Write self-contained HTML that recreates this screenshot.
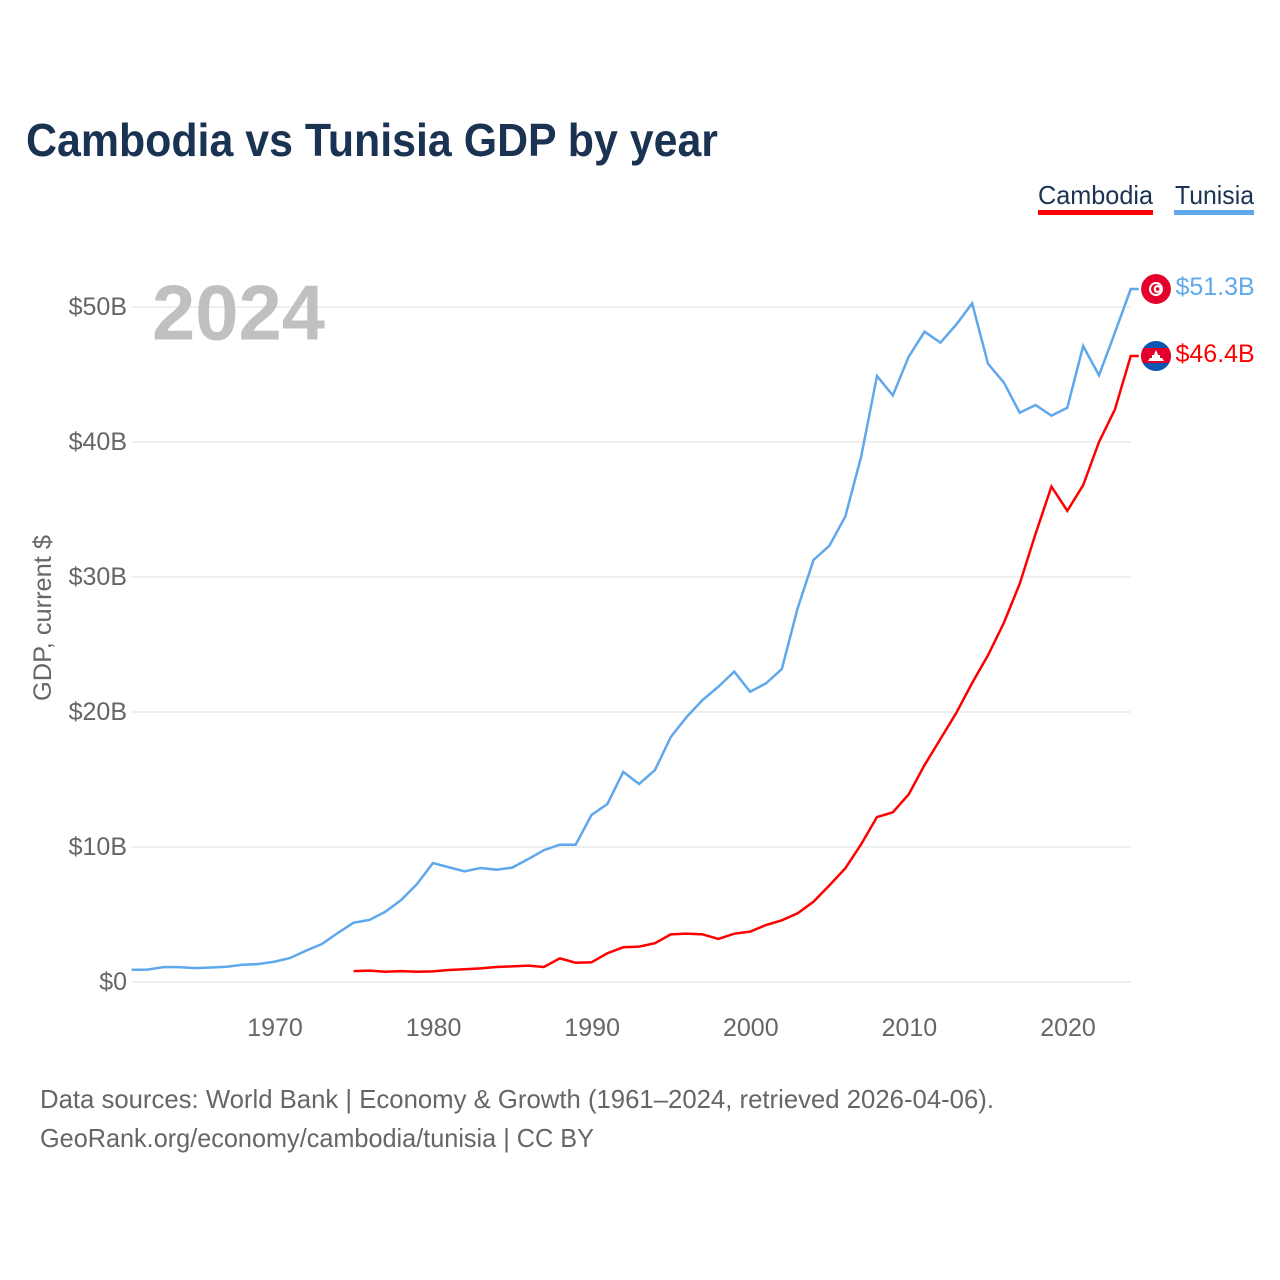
<!DOCTYPE html>
<html lang="en">
<head>
<meta charset="utf-8">
<title>Cambodia vs Tunisia GDP by year</title>
<style>
html,body{margin:0;padding:0;background:#fff;width:1280px;height:1280px;overflow:hidden}
svg{display:block;font-family:"Liberation Sans",sans-serif}
</style>
</head>
<body>
<svg id="chart" width="1280" height="1280" viewBox="0 0 1280 1280" xmlns="http://www.w3.org/2000/svg">
  <defs>
    <clipPath id="flag-clip"><circle cx="0" cy="0" r="15"></circle></clipPath>
  </defs>
  <rect x="0" y="0" width="1280" height="1280" fill="#ffffff"></rect>
  <text x="26" y="156" font-size="46" font-weight="700" fill="#1a3352" textLength="692" lengthAdjust="spacingAndGlyphs">Cambodia vs Tunisia GDP by year</text>

  <g>
    <g>
      <text x="1038" y="204" font-size="26" fill="#1a3352" textLength="115" lengthAdjust="spacingAndGlyphs">Cambodia</text>
      <rect x="1038" y="210" width="115" height="5" fill="#ff0000"></rect>
    </g>
    <g>
      <text x="1175" y="204" font-size="26" fill="#1a3352" textLength="79" lengthAdjust="spacingAndGlyphs">Tunisia</text>
      <rect x="1174" y="210" width="80" height="5" fill="#5fa8ec"></rect>
    </g>
  </g>

  <g id="grid-layer"></g>
  <g id="y-tick-layer"></g>
  <g id="x-tick-layer"></g>

  <text transform="translate(51,701) rotate(-90)" x="0" y="0" font-size="25" fill="#666666" textLength="166" lengthAdjust="spacingAndGlyphs">GDP, current $</text>
  <text x="152" y="339.5" font-size="78" font-weight="700" fill="#c0c0c0" textLength="173" lengthAdjust="spacingAndGlyphs">2024</text>

  <g id="series-layer"></g>

  <g id="tunisia-end">
    <g id="tunisia-flag" clip-path="url(#flag-clip)">
      <circle cx="0" cy="0" r="15" fill="#e4002b"></circle>
      <circle cx="0" cy="0" r="7" fill="#ffffff"></circle>
      <circle cx="0" cy="0" r="5" fill="#e4002b"></circle>
      <circle cx="1.6" cy="0" r="4" fill="#ffffff"></circle>
      <circle cx="1.6" cy="0" r="1.8" fill="#e4002b"></circle>
    </g>
    <text id="tunisia-value" x="1175.5" y="0" font-size="25" fill="#5fa8ec"></text>
  </g>

  <g id="cambodia-end">
    <g id="cambodia-flag" clip-path="url(#flag-clip)">
      <rect x="-15" y="-15" width="30" height="30" fill="#0b56b0"></rect>
      <rect x="-15" y="-8" width="30" height="15" fill="#e4002b"></rect>
      <polygon points="-8,5 -6,2 -4,2 -4,-1 -2,-1 -1,-4 0,-6 1,-4 2,-1 4,-1 4,2 6,2 8,5" fill="#ffffff"></polygon>
    </g>
    <text id="cambodia-value" x="1175.5" y="0" font-size="25" fill="#ff0000"></text>
  </g>

  <text x="40" y="1108" font-size="26" fill="#666666" textLength="954" lengthAdjust="spacingAndGlyphs">Data sources: World Bank | Economy &amp; Growth (1961–2024, retrieved 2026-04-06).</text>
  <text x="40" y="1147" font-size="26" fill="#666666" textLength="554" lengthAdjust="spacingAndGlyphs">GeoRank.org/economy/cambodia/tunisia | CC BY</text>
</svg>

<script>
const tunisiaStartYear = 1961;
const tunisiaValues = [
  0.91, 0.92, 1.10, 1.10, 1.03, 1.07, 1.13, 1.28, 1.33, 1.50,
  1.78, 2.32, 2.81, 3.63, 4.39, 4.60, 5.20, 6.07, 7.26, 8.81,
  8.50, 8.20, 8.44, 8.32, 8.47, 9.10, 9.77, 10.17, 10.17, 12.37,
  13.18, 15.56, 14.67, 15.70, 18.15, 19.63, 20.89, 21.87, 22.99, 21.50,
  22.12, 23.18, 27.70, 31.26, 32.32, 34.47, 38.90, 44.89, 43.45, 46.32,
  48.17, 47.36, 48.70, 50.27, 45.80, 44.40, 42.17, 42.74, 41.95, 42.54,
  47.11, 44.94, 48.10, 51.33
];
const cambodiaStartYear = 1975;
const cambodiaValues = [
  0.81, 0.84, 0.76, 0.81, 0.76, 0.79, 0.89, 0.94, 1.01, 1.11,
  1.16, 1.21, 1.11, 1.75, 1.43, 1.46, 2.13, 2.57, 2.62, 2.87,
  3.53, 3.58, 3.53, 3.19, 3.58, 3.73, 4.22, 4.57, 5.09, 5.95,
  7.16, 8.42, 10.20, 12.22, 12.57, 13.90, 16.07, 18.00, 19.93, 22.15,
  24.20, 26.60, 29.50, 33.20, 36.70, 34.90, 36.80, 40.00, 42.40, 46.37
];
const yTickValues = [0, 10, 20, 30, 40, 50];
const xTickYears = [1970, 1980, 1990, 2000, 2010, 2020];

const SVG_NS = 'http://www.w3.org/2000/svg';
const xAxis = function (year) { return 274.3 + (year - 1970) * 15.86; };
const yAxis = function (value) { return 982 - value * 13.5; };
const plotLeft = xAxis(1961);
const plotRight = xAxis(2024);

function make(tag, parent) {
  const el = document.createElementNS(SVG_NS, tag);
  parent.appendChild(el);
  return el;
}

const gridLayer = document.getElementById('grid-layer');
const yTickLayer = document.getElementById('y-tick-layer');
const xTickLayer = document.getElementById('x-tick-layer');
const seriesLayer = document.getElementById('series-layer');

yTickValues.forEach(function (v) {
  const line = make('line', gridLayer);
  
  
  line.setAttribute('x1', plotLeft);
  line.setAttribute('x2', plotRight);
  line.setAttribute('y1', yAxis(v));
  line.setAttribute('y2', yAxis(v));
  line.setAttribute('stroke', '#eaeaea');
  line.setAttribute('stroke-width', '1.5');

  const label = make('text', yTickLayer);
  
  
  label.setAttribute('x', 127);
  label.setAttribute('y', yAxis(v) + 8);
  label.setAttribute('text-anchor', 'end');
  label.setAttribute('font-size', '25');
  label.setAttribute('fill', '#666666');
  label.textContent = v === 0 ? '$0' : '$' + v + 'B';
});

xTickYears.forEach(function (year) {
  const label = make('text', xTickLayer);
  
  
  label.setAttribute('x', xAxis(year) + 0.7);
  label.setAttribute('y', 1036);
  label.setAttribute('text-anchor', 'middle');
  label.setAttribute('font-size', '25');
  label.setAttribute('fill', '#666666');
  label.textContent = year;
});

function seriesPath(values, startYear) {
  const pts = values.map(function (v, i) {
    return xAxis(startYear + i).toFixed(2) + ',' + yAxis(v).toFixed(2);
  });
  const last = values[values.length - 1];
  pts.push((xAxis(startYear + values.length - 1) + 8).toFixed(2) + ',' + yAxis(last).toFixed(2));
  return 'M' + pts.join(' L');
}

const tunisiaLine = make('path', seriesLayer);


tunisiaLine.setAttribute('d', seriesPath(tunisiaValues, tunisiaStartYear));
tunisiaLine.setAttribute('fill', 'none');
tunisiaLine.setAttribute('stroke', '#5fa8ec');
tunisiaLine.setAttribute('stroke-width', '2.5');

const cambodiaLine = make('path', seriesLayer);


cambodiaLine.setAttribute('d', seriesPath(cambodiaValues, cambodiaStartYear));
cambodiaLine.setAttribute('fill', 'none');
cambodiaLine.setAttribute('stroke', '#ff0000');
cambodiaLine.setAttribute('stroke-width', '2.5');

function placeEnd(flagId, valueId, values) {
  const last = values[values.length - 1];
  const y = yAxis(last);
  document.getElementById(flagId).setAttribute('transform', 'translate(1156,' + y + ')');
  const t = document.getElementById(valueId);
  t.setAttribute('y', y + 5.8);
  t.textContent = '$' + last.toFixed(1) + 'B';
}
placeEnd('tunisia-flag', 'tunisia-value', tunisiaValues);
placeEnd('cambodia-flag', 'cambodia-value', cambodiaValues);
</script>
</body>
</html>
